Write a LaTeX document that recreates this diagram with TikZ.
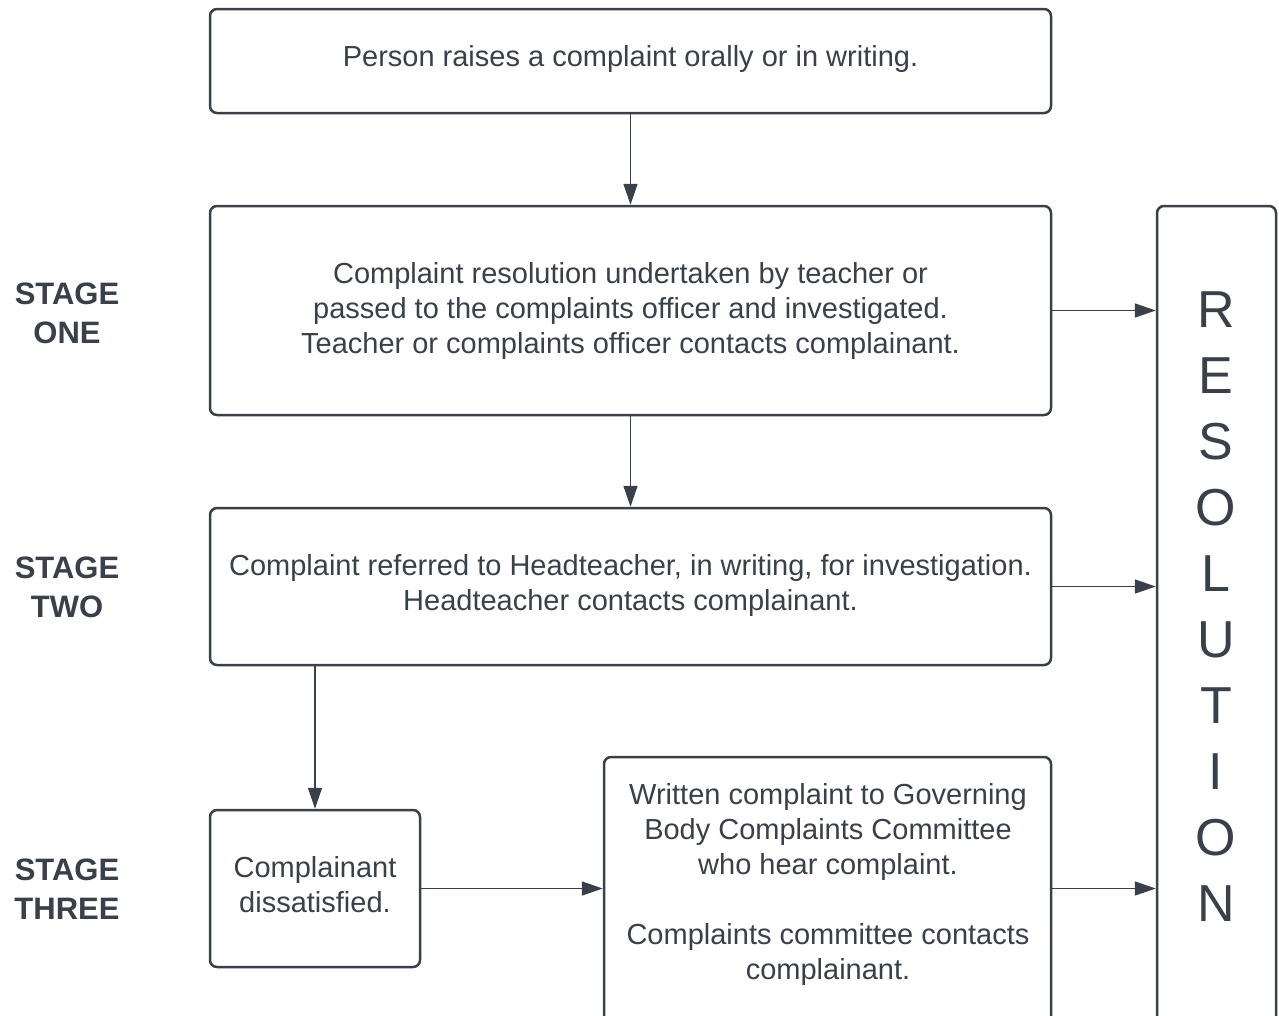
\documentclass[tikz,border=0pt]{standalone}
\usepackage{fontspec}
\setmainfont{Liberation Sans}
\usetikzlibrary{arrows.meta}
\definecolor{ink}{RGB}{58,64,73}
\begin{document}
\begin{tikzpicture}[x=1pt,y=-1pt,
  box/.style={draw=ink, line width=2.5pt, rounded corners=7pt, inner sep=0pt, text=ink, align=center, font=\fontsize{29}{35}\selectfont},
  txt/.style={inner sep=0pt, text=ink, align=center, font=\fontsize{29}{35}\selectfont},
  arr/.style={draw=ink, line width=1.5pt, -{Triangle[length=21pt,width=14pt]}},
  stagelbl/.style={inner sep=0pt, text=ink, font=\fontsize{31}{39}\selectfont\bfseries, align=center}]
\useasboundingbox (0,0) rectangle (1279,1015);
\clip (0,0) rectangle (1279,1015);
\fill[white] (0,0) rectangle (1279,1015);

\node[box, minimum width=841pt, minimum height=104pt] (b1) at (630.5,61) {};
\node[txt] (t1) at (630.5,59) {Person raises a complaint orally or in writing.};
\node[box, minimum width=841pt, minimum height=209pt] (b2) at (630.5,310.5) {Complaint resolution undertaken by teacher or\\passed to the complaints officer and investigated.\\Teacher or complaints officer contacts complainant.};
\node[box, minimum width=841pt, minimum height=157pt] (b3) at (630.5,586.5) {};
\node[txt] (t3) at (630.5,585.5) {Complaint referred to Headteacher, in writing, for investigation.\\Headteacher contacts complainant.};
\node[box, minimum width=210pt, minimum height=157pt] (b4) at (315,888.5) {};
\node[txt] (t4) at (315,885) {Complainant\\dissatisfied.};
\node[box, minimum width=447pt, minimum height=272pt] (b5) at (827.5,893) {};
\node[txt] (t5) at (828,884) {Written complaint to Governing\\Body Complaints Committee\\who hear complaint.\\[35pt]Complaints committee contacts\\complainant.};
\node[box, minimum width=119pt, minimum height=834pt] (res) at (1216.5,623) {};
\node[inner sep=0pt, text=ink, align=center, font=\fontsize{52}{66}\selectfont] (rl) at (1216,607) {R\\E\\S\\O\\L\\U\\T\\I\\O\\N};

\node[stagelbl] (s1) at (67,313) {STAGE\\ONE};
\node[stagelbl] (s2) at (67,587) {STAGE\\TWO};
\node[stagelbl] (s3) at (67,889) {STAGE\\THREE};

\draw[arr] (b1.south) -- (b2.north);
\draw[arr] (b2.south) -- (b3.north);
\draw[arr] (b3.south -| b4.north) -- (b4.north);
\draw[arr] (b4.east) -- (b4.east -| b5.west);
\draw[arr] (b2.east) -- (b2.east -| res.west);
\draw[arr] (b3.east) -- (b3.east -| res.west);
\coordinate (c5) at (b4.east -| b5.east);
\draw[arr] (c5) -- (c5 -| res.west);
\end{tikzpicture}
\end{document}
